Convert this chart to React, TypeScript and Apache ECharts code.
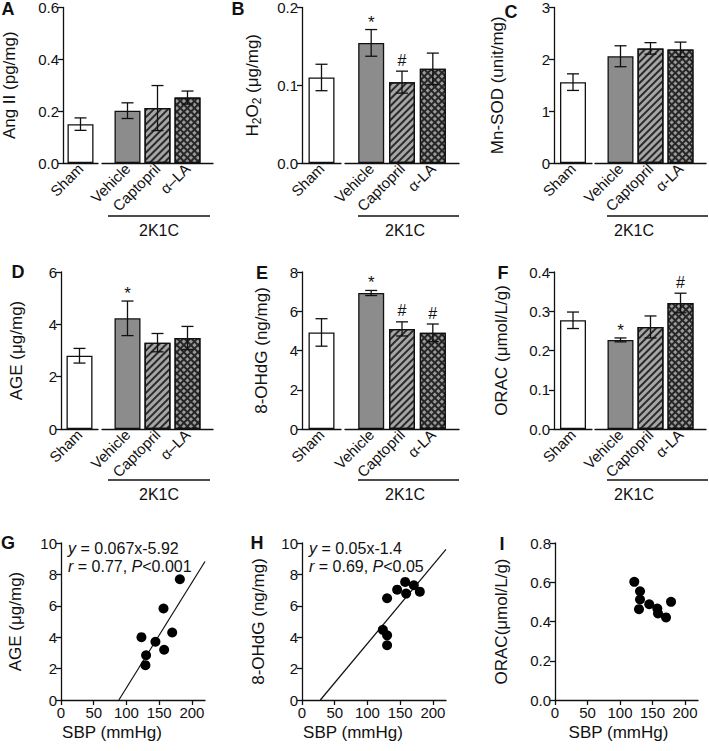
import React, { useEffect, useRef } from "react";
import * as echarts from "echarts";

const FONT = "'Liberation Sans', Arial, Helvetica, sans-serif";

// ---------- data ----------
const groupsAD = ["Sham", "Vehicle", "Captopril", "α–LA"];
const groups = ["Sham", "Vehicle", "Captopril", "α-LA"];

const angIIMean = [0.15, 0.2, 0.21, 0.25];
const angIIErr = [0.024, 0.03, 0.086, 0.025];
const angIISig = ["", "", "", ""];
const angIITicks = [0, 0.2, 0.4, 0.6];

const h2o2Mean = [0.11, 0.153, 0.103, 0.12];
const h2o2Err = [0.017, 0.017, 0.014, 0.02];
const h2o2Sig = ["", "*", "#", ""];
const h2o2Ticks = [0, 0.1, 0.2];

const mnsodMean = [1.56, 2.04, 2.19, 2.17];
const mnsodErr = [0.16, 0.2, 0.11, 0.14];
const mnsodSig = ["", "", "", ""];
const mnsodTicks = [0, 1, 2, 3];

const ageMean = [2.8, 4.23, 3.3, 3.48];
const ageErr = [0.28, 0.66, 0.35, 0.44];
const ageSig = ["", "*", "", ""];
const ageTicks = [0, 2, 4, 6];

const ohdgMean = [4.92, 6.93, 5.1, 4.9];
const ohdgErr = [0.7, 0.13, 0.36, 0.45];
const ohdgSig = ["", "*", "#", "#"];
const ohdgTicks = [0, 2, 4, 6, 8];

const oracMean = [0.277, 0.227, 0.26, 0.321];
const oracErr = [0.021, 0.005, 0.028, 0.025];
const oracSig = ["", "*", "", "#"];
const oracTicks = [0, 0.1, 0.2, 0.3, 0.4];

const sbpTicks = [0, 50, 100, 150, 200];

const sbpG = [181.6, 156.6, 169.9, 144.3, 122.9, 157.6, 130, 129];
const ageG = [7.69, 5.83, 4.3, 3.71, 4.0, 3.2, 2.85, 2.22];
const fitG = [[88.4, 0], [220, 8.82]];
const ageGTicks = [0, 2, 4, 6, 8, 10];

const sbpH = [157.6, 145.4, 170.8, 180, 159.1, 130, 123.5, 130, 130];
const ohdgH = [7.52, 7.03, 7.31, 6.9, 6.78, 6.48, 4.47, 4.12, 3.49];
const fitH = [[28, 0], [220, 9.6]];
const ohdgHTicks = [0, 2, 4, 6, 8, 10];

const sbpI = [122, 130.8, 130.8, 129.2, 145, 157.4, 158.5, 170.8, 178.5];
const oracI = [0.602, 0.554, 0.512, 0.463, 0.488, 0.466, 0.441, 0.421, 0.5];
const oracITicks = [0, 0.2, 0.4, 0.6, 0.8];

const eqG = ["{i|y} = 0.067x-5.92", "{i|r} = 0.77, {i|P}<0.001"];
const eqH = ["{i|y} = 0.05x-1.4", "{i|r} = 0.69, {i|P}<0.05"];
const groupLabel = "2K1C";

// ---------- layout ----------
const COLS = [
  { yx: 61, shamEnd: 98, rStart: 102, rEnd: 213, line: [108, 210], textX: 159 },
  { yx: 302, shamEnd: 341, rStart: 345, rEnd: 459, line: [358, 459], textX: 405 },
  { yx: 554, shamEnd: 592, rStart: 595, rEnd: 706, line: [607, 708], textX: 634 },
];
const ROWS = [
  { top: 6, h: 157, lineY: 216, textY: 230 },
  { top: 272, h: 157, lineY: 480, textY: 494 },
];

const BLACK = "#111";
const TICK_FS = 15;
const NAME_FS = 17;
const EQ_FS = 16;

const barStyles: any[] = [
  { color: "#ffffff" },
  { color: "#8c8c8c" },
  {
    color: "#a6a6a6",
    decal: { symbol: "rect", symbolSize: 1, dashArrayX: [1, 0], dashArrayY: [1.4, 2.6], rotation: -Math.PI / 4, color: "#2a2a2a" },
  },
  {
    color: "#262626",
    decal: { symbol: "rect", symbolSize: 1, dashArrayX: [2.4, 1.6], dashArrayY: [2.4, 1.6], rotation: Math.PI / 4, color: "#9a9a9a" },
  },
];

function fmt(dec: number) {
  return (v: number) => v.toFixed(dec);
}

export default function App() {
  const ref = useRef<HTMLDivElement>(null);
  useEffect(() => {
    if (!ref.current) return;
    const chart = echarts.init(ref.current, undefined, { renderer: "svg" });

    const barPanels = [
      { name: "Ang II (pg/mg)", mean: angIIMean, err: angIIErr, sig: angIISig, ticks: angIITicks, dec: 1, col: 0, row: 0, gap: 45, cats: groupsAD },
      { name: "{n|H}{s|2}{n|O}{s|2}{n| (μg/mg)}", mean: h2o2Mean, err: h2o2Err, sig: h2o2Sig, ticks: h2o2Ticks, dec: 1, col: 1, row: 0, gap: 39, cats: groups },
      { name: "Mn-SOD (unit/mg)", mean: mnsodMean, err: mnsodErr, sig: mnsodSig, ticks: mnsodTicks, dec: 0, col: 2, row: 0, gap: 48, cats: groups },
      { name: "AGE (μg/mg)", mean: ageMean, err: ageErr, sig: ageSig, ticks: ageTicks, dec: 0, col: 0, row: 1, gap: 36, cats: groupsAD },
      { name: "8-OHdG (ng/mg)", mean: ohdgMean, err: ohdgErr, sig: ohdgSig, ticks: ohdgTicks, dec: 0, col: 1, row: 1, gap: 32, cats: groups },
      { name: "ORAC (μmol/L/g)", mean: oracMean, err: oracErr, sig: oracSig, ticks: oracTicks, dec: 1, col: 2, row: 1, gap: 44, cats: groups },
    ];
    const letterPos: Record<string, [number, number]> = {
      A: [8, 9], B: [238, 9], C: [511, 12], D: [18, 272], E: [262, 273], F: [503, 273], G: [8, 543], H: [257, 543], I: [502, 544],
    };

    const grid: any[] = [];
    const xAxis: any[] = [];
    const yAxis: any[] = [];
    const series: any[] = [];
    const graphic: any[] = [];

    const axisLine = { show: true, lineStyle: { color: BLACK, width: 1.3 } };
    const labelStyle = { color: BLACK, fontFamily: FONT, fontSize: TICK_FS };

    const errSeries = (idx: number, pts: number[][], sig: string[]) => ({
      type: "custom",
      xAxisIndex: idx,
      yAxisIndex: idx,
      z: 10,
      silent: true,
      data: pts,
      renderItem: (params: any, api: any) => {
        const x = api.value(0), m = api.value(1), e = api.value(2);
        const t = api.coord([x, m + e]);
        const b = api.coord([x, m - e]);
        const hw = 6;
        const st = { stroke: BLACK, lineWidth: 1.3 };
        const children: any[] = [
          { type: "line", shape: { x1: t[0], y1: t[1], x2: b[0], y2: b[1] }, style: st },
          { type: "line", shape: { x1: t[0] - hw, y1: t[1], x2: t[0] + hw, y2: t[1] }, style: st },
          { type: "line", shape: { x1: b[0] - hw, y1: b[1], x2: b[0] + hw, y2: b[1] }, style: st },
        ];
        const s = sig[params.dataIndex];
        if (s) {
          children.push({
            type: "text",
            x: t[0],
            y: s === "*" ? t[1] + 1 : t[1] - 3,
            style: { text: s, fill: BLACK, font: `${s === "*" ? 17 : 16}px ${FONT}`, align: "center", verticalAlign: "bottom" },
          });
        }
        return { type: "group", children };
      },
    });

    barPanels.forEach((p) => {
      const c = COLS[p.col];
      const r = ROWS[p.row];
      const gi = grid.length;
      const min = p.ticks[0];
      const max = p.ticks[p.ticks.length - 1];
      const interval = p.ticks[1] - p.ticks[0];
      grid.push({ left: c.yx, top: r.top, width: c.shamEnd - c.yx, height: r.h });
      grid.push({ left: c.rStart, top: r.top, width: c.rEnd - c.rStart, height: r.h });
      const xLabel = {
        ...labelStyle,
        rotate: 45,
        margin: 3,
        padding: [20, 0, 0, 0],
      };
      xAxis.push({
        type: "value", gridIndex: gi, min: 0, max: 2,
        axisLine, axisTick: { show: false }, splitLine: { show: false },
        axisLabel: { ...xLabel, customValues: [1], formatter: () => p.cats[0] },
      });
      xAxis.push({
        type: "value", gridIndex: gi + 1, min: 0.15, max: 3.85,
        axisLine, axisTick: { show: false }, splitLine: { show: false },
        axisLabel: { ...xLabel, customValues: [1, 2, 3], formatter: (v: number) => p.cats[Math.round(v)] },
      });
      yAxis.push({
        type: "value", gridIndex: gi, min, max, interval,
        axisLine, axisTick: { show: true, length: 5, lineStyle: { color: BLACK, width: 1.3 } },
        splitLine: { show: false },
        axisLabel: { ...labelStyle, margin: 4, formatter: fmt(p.dec) },
        name: p.name, nameLocation: "middle", nameGap: p.gap,
        nameTextStyle: {
          color: BLACK, fontFamily: FONT, fontSize: NAME_FS,
          rich: {
            n: { fontSize: NAME_FS, fontFamily: FONT, color: BLACK },
            s: { fontSize: 12, fontFamily: FONT, color: BLACK, padding: [10, 0, 0, 0] },
          },
        },
      });
      yAxis.push({ type: "value", gridIndex: gi + 1, min, max, interval, show: false });

      series.push({
        type: "bar", xAxisIndex: gi, yAxisIndex: gi, barWidth: 26,
        data: [{ value: [1, p.mean[0]], itemStyle: { ...barStyles[0], borderColor: BLACK, borderWidth: 1.3 } }],
      });
      series.push({
        type: "bar", xAxisIndex: gi + 1, yAxisIndex: gi + 1, barWidth: 26,
        data: [1, 2, 3].map((k) => ({ value: [k, p.mean[k]], itemStyle: { ...barStyles[k], borderColor: BLACK, borderWidth: 1.3 } })),
      });
      series.push(errSeries(gi, [[1, p.mean[0], p.err[0]]], [p.sig[0]]));
      series.push(errSeries(gi + 1, [1, 2, 3].map((k) => [k, p.mean[k], p.err[k]]), [p.sig[1], p.sig[2], p.sig[3]]));

      graphic.push({ type: "line", shape: { x1: c.line[0], y1: r.lineY, x2: c.line[1], y2: r.lineY }, style: { stroke: BLACK, lineWidth: 1.3 } });
      graphic.push({ type: "text", x: c.textX, y: r.textY, style: { text: groupLabel, font: `16px ${FONT}`, fill: BLACK, align: "center", verticalAlign: "middle" } });
    });

    const scatPanels = [
      { name: "AGE (μg/mg)", xs: sbpG, ys: ageG, fit: fitG, eq: eqG, ticks: ageGTicks, dec: 0, left: 61, width: 144, gap: 37, shift: 21 },
      { name: "8-OHdG (ng/mg)", xs: sbpH, ys: ohdgH, fit: fitH, eq: eqH, ticks: ohdgHTicks, dec: 0, left: 302, width: 144, gap: 35, shift: 21 },
      { name: "ORAC(μmol/L/g)", xs: sbpI, ys: oracI, fit: null, eq: null, ticks: oracITicks, dec: 1, left: 555, width: 143, gap: 45, shift: 8 },
    ];
    scatPanels.forEach((p) => {
      const gi = grid.length;
      grid.push({ left: p.left, top: 543, width: p.width, height: 157 });
      xAxis.push({
        type: "value", gridIndex: gi, min: 0, max: 220,
        axisLine, splitLine: { show: false },
        axisTick: { show: true, length: 5, customValues: sbpTicks, lineStyle: { color: BLACK, width: 1.3 } },
        axisLabel: { ...labelStyle, margin: 5, customValues: sbpTicks },
        name: "SBP (mmHg)", nameLocation: "middle", nameGap: 24,
        nameTextStyle: { color: BLACK, fontFamily: FONT, fontSize: NAME_FS, padding: [0, p.shift * 2, 0, 0] },
      });
      yAxis.push({
        type: "value", gridIndex: gi, min: p.ticks[0], max: p.ticks[p.ticks.length - 1], interval: p.ticks[1] - p.ticks[0],
        axisLine, splitLine: { show: false },
        axisTick: { show: true, length: 5, lineStyle: { color: BLACK, width: 1.3 } },
        axisLabel: { ...labelStyle, margin: 4, formatter: fmt(p.dec) },
        name: p.name, nameLocation: "middle", nameGap: p.gap,
        nameTextStyle: { color: BLACK, fontFamily: FONT, fontSize: NAME_FS },
      });
      if (p.fit) {
        series.push({
          type: "line", xAxisIndex: gi, yAxisIndex: gi, data: p.fit, symbol: "none",
          lineStyle: { color: BLACK, width: 1.2 }, z: 1,
        });
      }
      series.push({
        type: "scatter", xAxisIndex: gi, yAxisIndex: gi, symbolSize: 10,
        itemStyle: { color: "#000", opacity: 1 }, z: 3,
        data: p.xs.map((x, k) => [x, p.ys[k]]),
      });
      if (p.eq) {
        const rich = { i: { fontStyle: "italic", fontSize: EQ_FS, fontFamily: FONT, fill: BLACK } };
        graphic.push({ type: "text", x: p.left + 7, y: 548, style: { text: p.eq[0], rich, font: `${EQ_FS}px ${FONT}`, fill: BLACK, align: "left", verticalAlign: "middle" } });
        graphic.push({ type: "text", x: p.left + 7, y: 566, style: { text: p.eq[1], rich, font: `${EQ_FS}px ${FONT}`, fill: BLACK, align: "left", verticalAlign: "middle" } });
      }
    });

    Object.keys(letterPos).forEach((k) => {
      const [x, y] = letterPos[k];
      graphic.push({ type: "text", x, y, style: { text: k, font: `bold 18px ${FONT}`, fill: BLACK, align: "center", verticalAlign: "middle" } });
    });

    chart.setOption({
      animation: false,
      backgroundColor: "#ffffff",
      grid,
      xAxis,
      yAxis,
      series,
      graphic,
    });
    return () => chart.dispose();
  }, []);
  return <div ref={ref} style={{ position: "absolute", left: 0, top: 0, width: 709, height: 751 }} />;
}
